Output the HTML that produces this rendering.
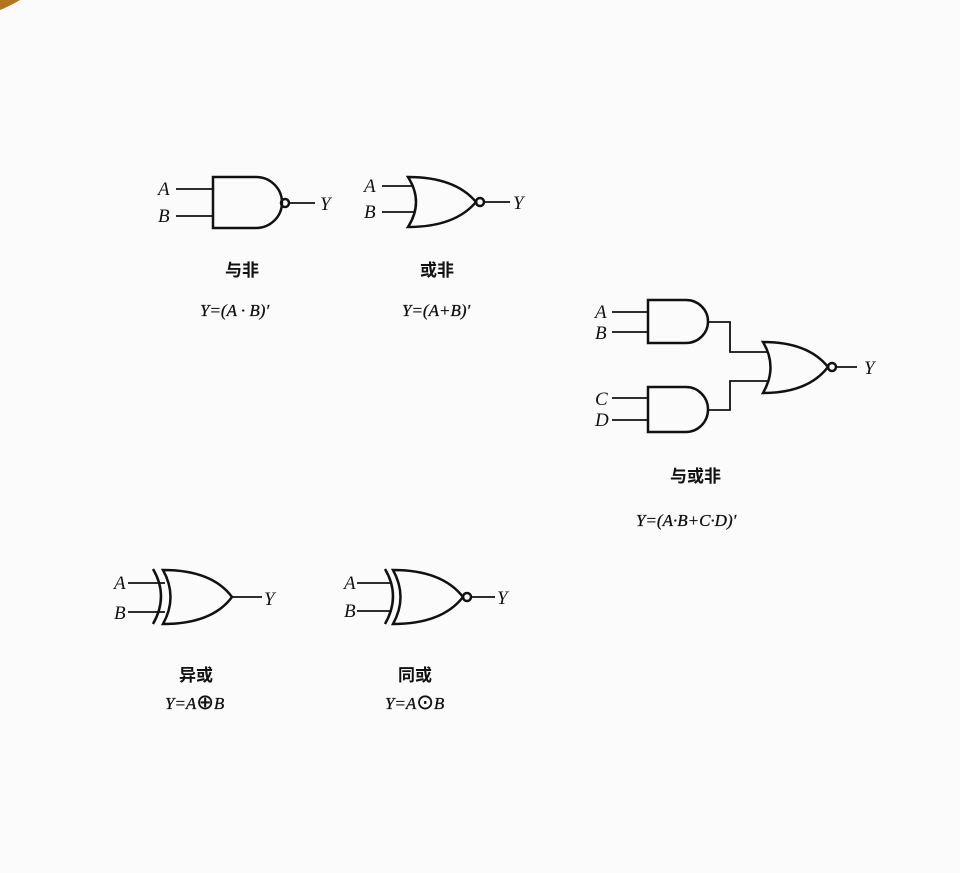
<!DOCTYPE html>
<html><head><meta charset="utf-8"><style>
html,body{margin:0;padding:0;background:#fbfbfb;}
svg{display:block;}
.l{fill:none;stroke:#111;stroke-width:2.5;}
.w{fill:none;stroke:#111;stroke-width:1.8;}
.i{font-family:"Liberation Serif",serif;font-style:italic;font-size:19px;fill:#111;}
.f{font-family:"Liberation Serif",serif;font-style:italic;font-size:17px;fill:#111;stroke:#111;stroke-width:0.3;}
.c{font-family:"Liberation Sans","Noto Sans CJK SC",sans-serif;font-size:17px;font-weight:bold;fill:#111;}
</style></head><body>
<svg width="960" height="873" viewBox="0 0 960 873" xmlns="http://www.w3.org/2000/svg">
<rect width="960" height="873" fill="#fbfbfb"/>
<path d="M0 0 L20 0 Q10 6 0 10 Z" fill="#b5751f"/>
<!-- NAND -->
<path class="w" d="M176 189H213M176 216H213M289 203H315"/>
<path class="l" d="M213 177H256A26 25.5 0 0 1 256 228H213Z"/>
<circle class="l" cx="285" cy="203" r="4"/>
<text class="i" x="158" y="195">A</text><text class="i" x="158" y="222">B</text><text class="i" x="320" y="210">Y</text>
<text class="c" x="225" y="276">与非</text>
<text class="f" x="200" y="316">Y=(A · B)′</text>
<!-- NOR -->
<path class="w" d="M382 186H414M382 212H414M484 202H510"/>
<path class="l" d="M408 177Q424 202 408 227Q455 227 476 202Q455 177 408 177Z"/>
<circle class="l" cx="480" cy="202" r="4"/>
<text class="i" x="364" y="192">A</text><text class="i" x="364" y="218">B</text><text class="i" x="513" y="209">Y</text>
<text class="c" x="420" y="276">或非</text>
<text class="f" x="402" y="316">Y=(A+B)′</text>
<!-- AOI -->
<path class="w" d="M612 312H648M612 332H648M708 322H730V352H767M612 398H648M612 420H648M708 410H730V381H767M837 367H857"/>
<path class="l" d="M648 300H686A22 21.5 0 0 1 686 343H648Z"/>
<path class="l" d="M648 387H686A22 22.5 0 0 1 686 432H648Z"/>
<path class="l" d="M763 342Q778 367 763 393Q808 393 828 367Q808 342 763 342Z"/>
<circle class="l" cx="832" cy="367" r="4"/>
<text class="i" x="595" y="318">A</text><text class="i" x="595" y="339">B</text>
<text class="i" x="595" y="405">C</text><text class="i" x="595" y="426">D</text>
<text class="i" x="864" y="374">Y</text>
<text class="c" x="670" y="482">与或非</text>
<text class="f" x="636" y="526">Y=(A·B+C·D)′</text>
<!-- XOR -->
<path class="w" d="M128 583H165M128 612H165M232 597H262"/>
<path class="l" d="M153 569Q169 596 153 624"/>
<path class="l" d="M163 570Q178 597 163 624Q212 624 232 597Q212 570 163 570Z"/>
<text class="i" x="114" y="589">A</text><text class="i" x="114" y="619">B</text><text class="i" x="264" y="605">Y</text>
<text class="c" x="179" y="681">异或</text>
<text class="f" x="165" y="709">Y=A<tspan font-style="normal" font-size="21">⊕</tspan>B</text>
<!-- XNOR -->
<path class="w" d="M357 583H392M357 611H392M471 597H495"/>
<path class="l" d="M385 569Q401 596 385 624"/>
<path class="l" d="M393 570Q408 597 393 624Q442 624 463 597Q442 570 393 570Z"/>
<circle class="l" cx="467" cy="597" r="4"/>
<text class="i" x="344" y="589">A</text><text class="i" x="344" y="617">B</text><text class="i" x="497" y="604">Y</text>
<text class="c" x="398" y="681">同或</text>
<text class="f" x="385" y="709">Y=A<tspan font-style="normal" font-size="21">⊙</tspan>B</text>
</svg>
</body></html>
